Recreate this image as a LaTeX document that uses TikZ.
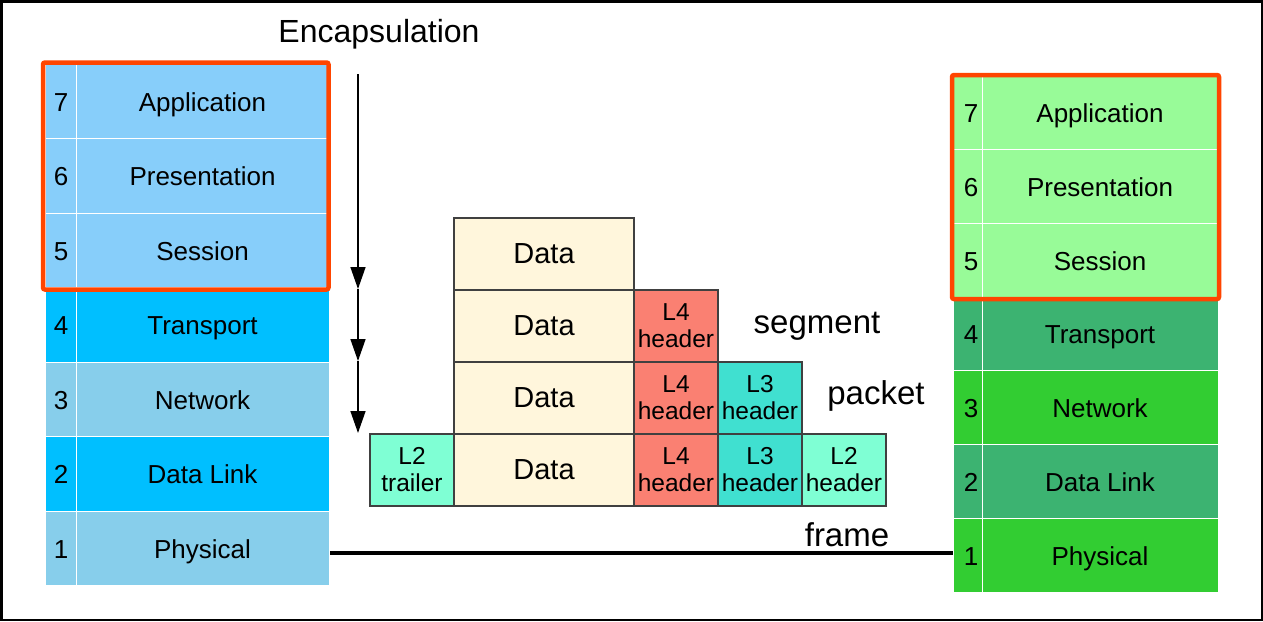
\documentclass[tikz,border=0pt]{standalone}
\usepackage{fontspec}
\setmainfont{Liberation Sans}
\usetikzlibrary{arrows.meta}
\definecolor{lsb}{HTML}{87CEFA}
\definecolor{dsb}{HTML}{00BFFF}
\definecolor{sbl}{HTML}{87CEEB}
\definecolor{pgr}{HTML}{98FB98}
\definecolor{msg}{HTML}{3CB371}
\definecolor{lgr}{HTML}{32CD32}
\definecolor{ored}{HTML}{FF4500}
\definecolor{csilk}{HTML}{FFF6DC}
\definecolor{salm}{HTML}{FA8072}
\definecolor{turq}{HTML}{40E0D0}
\definecolor{aqua}{HTML}{7FFFD4}
\begin{document}
\begin{tikzpicture}[x=1pt,y=-1pt,
  cell/.style={draw=white, line width=0.8pt, anchor=north west, inner sep=0pt, outer sep=0pt},
  lab/.style={anchor=base, inner sep=0pt, font=\fontsize{26}{30}\selectfont},
  hand/.style={anchor=base, inner sep=0pt, font=\fontsize{33}{38}\selectfont},
  blk/.style={draw=black!75, line width=1.2pt, anchor=north west, inner sep=0pt, outer sep=0pt, align=center,
    minimum height=72pt, font=\fontsize{24.5}{27}\selectfont},
  datablk/.style={blk, fill=csilk, minimum width=180pt, font=\fontsize{29}{33}\selectfont},
  hdr/.style={blk, minimum width=84pt},
  obox/.style={draw=ored, line width=4.5pt, rounded corners=2pt},
  arr/.style={line width=1.5pt, -{Triangle[length=22pt,width=15pt]}}
]
\useasboundingbox (0,0) rectangle (1263,621);
\draw[line width=2.5pt] (1.25,1.25) rectangle (1261.75,619.75);

% left stack
\foreach \k/\col/\nm in {7/lsb/Application,6/lsb/Presentation,5/lsb/Session,4/dsb/Transport,3/sbl/Network,2/dsb/Data Link,1/sbl/Physical} {
  \pgfmathsetmacro\t{64+74.5*(7-\k)}
  \node[cell, fill=\col, minimum width=31pt, minimum height=74.5pt] (Ln\k) at (45,\t) {};
  \node[cell, fill=\col, minimum width=253pt, minimum height=74.5pt] (Lc\k) at (76,\t) {};
  \node[lab] (Lnt\k) at (61,{\t+47.25}) {\k};
  \node[lab] (Llt\k) at (202.5,{\t+47.25}) {\nm};
}
% right stack
\foreach \k/\col/\nm in {7/pgr/Application,6/pgr/Presentation,5/pgr/Session,4/msg/Transport,3/lgr/Network,2/msg/Data Link,1/lgr/Physical} {
  \pgfmathsetmacro\t{76+73.7*(7-\k)}
  \node[cell, fill=\col, minimum width=29pt, minimum height=73.7pt] (Rn\k) at (953,\t) {};
  \node[cell, fill=\col, minimum width=236pt, minimum height=73.7pt] (Rc\k) at (982,\t) {};
  \node[lab] (Rnt\k) at (971,{\t+46.85}) {\k};
  \node[lab] (Rlt\k) at (1100,{\t+46.85}) {\nm};
}
\draw[obox] (43,62.5) rectangle (328.5,289.5);
\draw[obox] (952,75) rectangle (1219,299);

% encapsulation arrow
\coordinate (a0) at (358,74);
\coordinate (a1) at (358,289);
\coordinate (a2) at (358,361);
\coordinate (a3) at (358,433);
\draw[arr] (a0) -- (a1);
\draw[arr] (a1) -- (a2);
\draw[arr] (a2) -- (a3);

% data blocks
\node[datablk] (D1) at (454,218) {Data};
\node[datablk] (D2) at (454,290) {Data};
\node[datablk] (D3) at (454,362) {Data};
\node[datablk] (D4) at (454,434) {Data};
\node[hdr, fill=salm] (H4a) at (634,290) {L4\\header};
\node[hdr, fill=salm] (H4b) at (634,362) {L4\\header};
\node[hdr, fill=salm] (H4c) at (634,434) {L4\\header};
\node[hdr, fill=turq] (H3a) at (718,362) {L3\\header};
\node[hdr, fill=turq] (H3b) at (718,434) {L3\\header};
\node[hdr, fill=aqua] (H2) at (802,434) {L2\\header};
\node[hdr, fill=aqua] (T2) at (370,434) {L2\\trailer};

% labels
\node[hand, font=\fontsize{32}{37}\selectfont] (enc) at (379,42) {Encapsulation};
\node[hand] (seg) at (817,333) {segment};
\node[hand] (pkt) at (876,404) {packet};
\node[hand] (frm) at (847,546) {frame};

% physical link
\coordinate (pL) at (330,553);
\coordinate (pR) at (953,553);
\draw[line width=4.5pt] (pL) -- (pR);
\end{tikzpicture}
\end{document}
